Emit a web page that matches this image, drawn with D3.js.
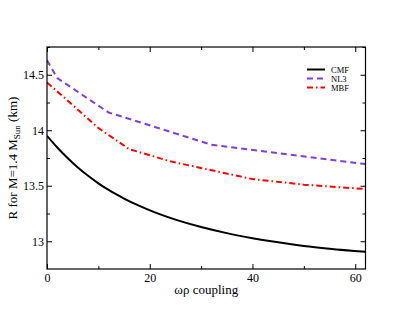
<!DOCTYPE html>
<html lang="en">
<head>
    <meta charset="UTF-8">
    <title>R vs omega-rho coupling</title>
    <script src="https://cdn.jsdelivr.net/npm/d3@7/dist/d3.min.js" type="text/javascript"></script>
    <style>
        body { margin: 0; background: #fff; }
        svg text { font-family: "Liberation Serif", "Times New Roman", Times, "DejaVu Serif", serif; }
    </style>
</head>
<body>
<svg width="412" height="318"></svg>
<script type="text/javascript">
    // data
    var cmfX = [0, 2, 4, 6, 8, 10, 12, 15, 18, 21, 25, 30, 35, 40, 45, 50, 55, 62];
    var cmfR = [13.95, 13.845, 13.75, 13.665, 13.59, 13.522, 13.462, 13.385, 13.318, 13.26, 13.195, 13.128, 13.073, 13.028, 12.99, 12.958, 12.933, 12.905];
    var nl3X = [0, 2, 12, 32, 62];
    var nl3R = [14.63, 14.47, 14.16, 13.87, 13.695];
    var mbfX = [0, 2, 6, 10, 16, 24, 40, 50, 62];
    var mbfR = [14.43, 14.35, 14.185, 14.02, 13.83, 13.72, 13.56, 13.51, 13.47];

    var seriesNames = ['CMF', 'NL3', 'MBF'];
    var xMajor = [0, 20, 40, 60];
    var xMinor = [10, 30, 50];
    var yMajor = [13, 13.5, 14, 14.5];
    var yMinor = [13.25, 13.75, 14.25, 14.75];

    var serif = '"Liberation Serif", "Times New Roman", Times, "DejaVu Serif", serif';
    var svg = d3.select('svg');
    var box = {left: 47, right: 365.5, top: 47, bottom: 269};

    var x = d3.scaleLinear().domain([0, 62]).range([box.left, box.right]);
    var y = d3.scaleLinear().domain([12.75, 14.75]).range([box.bottom, box.top]);

    // series styles
    var styles = [
        {color: '#000000', width: 2, dash: null, curve: d3.curveMonotoneX},
        {color: '#8040d8', width: 2, dash: '6,4', curve: d3.curveLinear},
        {color: '#ff0000', width: 2, dash: '6,3,1.5,3', curve: d3.curveLinear}
    ];
    var series = [
        d3.zip(cmfX, cmfR),
        d3.zip(nl3X, nl3R),
        d3.zip(mbfX, mbfR)
    ];

    function lineFor(i) {
        return d3.line()
            .curve(styles[i].curve)
            .x(function(d){ return x(d[0]); })
            .y(function(d){ return y(d[1]); });
    }

    svg.append('clipPath').attr('id', 'clip')
        .append('rect')
        .attr('x', box.left).attr('y', box.top)
        .attr('width', box.right - box.left).attr('height', box.bottom - box.top);

    svg.append('g').attr('clip-path', 'url(#clip)')
        .selectAll('path')
        .data(series)
        .enter()
        .append('path')
        .attr('d', function(d, i){ return lineFor(i)(d); })
        .attr('fill', 'none')
        .attr('stroke', function(d, i){ return styles[i].color; })
        .attr('stroke-width', function(d, i){ return styles[i].width; })
        .attr('stroke-dasharray', function(d, i){ return styles[i].dash; });

    // ticks, all pointing inward, mirrored on opposite sides
    function tickAxis(axis, vals, size, labels) {
        return axis.tickValues(vals).tickSize(size).tickSizeOuter(0)
            .tickFormat(labels ? d3.format('') : '');
    }

    svg.append('g').attr('transform', 'translate(0,' + box.bottom + ')')
        .call(tickAxis(d3.axisBottom(x), xMajor, -5, true).tickPadding(4));
    svg.append('g').attr('transform', 'translate(0,' + box.bottom + ')')
        .call(tickAxis(d3.axisBottom(x), xMinor, -3, false));
    svg.append('g').attr('transform', 'translate(0,' + box.top + ')')
        .call(tickAxis(d3.axisTop(x), xMajor, -5, false));
    svg.append('g').attr('transform', 'translate(0,' + box.top + ')')
        .call(tickAxis(d3.axisTop(x), xMinor, -3, false));

    svg.append('g').attr('transform', 'translate(' + box.left + ',0)')
        .call(tickAxis(d3.axisLeft(y), yMajor, -5, true).tickPadding(3));
    svg.append('g').attr('transform', 'translate(' + box.left + ',0)')
        .call(tickAxis(d3.axisLeft(y), yMinor, -3, false));
    svg.append('g').attr('transform', 'translate(' + box.right + ',0)')
        .call(tickAxis(d3.axisRight(y), yMajor, -5, false));
    svg.append('g').attr('transform', 'translate(' + box.right + ',0)')
        .call(tickAxis(d3.axisRight(y), yMinor, -3, false));

    svg.selectAll('.domain').remove();
    svg.selectAll('g').attr('font-family', serif);
    svg.selectAll('.tick line').attr('stroke', '#000');
    svg.selectAll('.tick text')
        .attr('font-family', serif)
        .attr('font-size', '12px')
        .attr('fill', '#000');

    // frame
    svg.append('rect')
        .attr('x', box.left).attr('y', box.top)
        .attr('width', box.right - box.left).attr('height', box.bottom - box.top)
        .attr('fill', 'none').attr('stroke', '#000').attr('stroke-width', 1.2);

    // axis titles
    svg.append('text')
        .attr('x', (box.left + box.right) / 2)
        .attr('y', 294)
        .attr('text-anchor', 'middle')
        .attr('font-family', serif)
        .attr('font-size', '13px')
        .text('ωρ coupling');

    var yt = svg.append('text')
        .attr('transform', 'translate(17,' + ((box.top + box.bottom) / 2) + ') rotate(-90)')
        .attr('text-anchor', 'middle')
        .attr('font-family', serif)
        .attr('font-size', '13px');
    yt.append('tspan').text('R for M=1.4 M');
    yt.append('tspan').attr('font-size', '9px').attr('dy', 3).text('Sun');
    yt.append('tspan').attr('dy', -3).text(' (km)');

    // legend
    var lg = svg.append('g').selectAll('g')
        .data(seriesNames)
        .enter()
        .append('g')
        .attr('transform', function(d, i){ return 'translate(307,' + (69.5 + i * 9) + ')'; });
    lg.append('line')
        .attr('x1', 0).attr('x2', 18)
        .attr('stroke', function(d, i){ return styles[i].color; })
        .attr('stroke-width', 2)
        .attr('stroke-dasharray', function(d, i){ return styles[i].dash; });
    lg.append('text')
        .attr('x', 24).attr('y', 3)
        .attr('font-family', serif)
        .attr('font-size', '8.5px')
        .text(function(d){ return d; });
</script>
</body>
</html>
